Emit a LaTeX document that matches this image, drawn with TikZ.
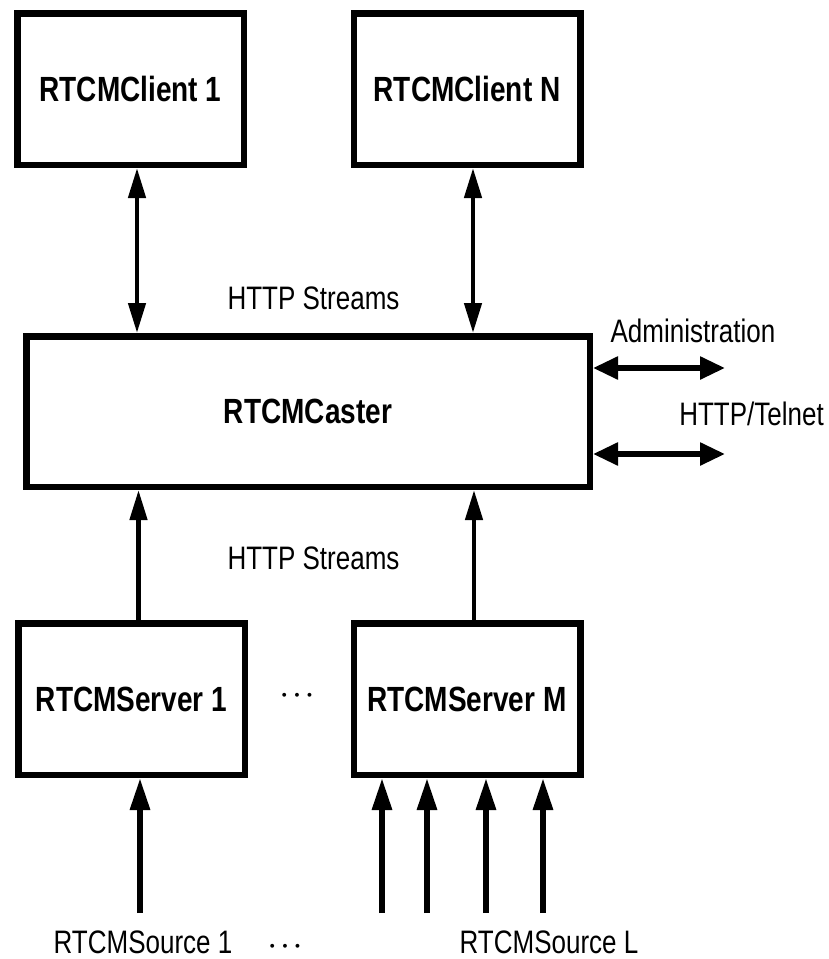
\documentclass[tikz,border=0pt]{standalone}
\usepackage{fontspec}
\setmainfont{Liberation Sans}[FakeStretch=0.8]
\usetikzlibrary{arrows.meta}

\begin{document}
\begin{tikzpicture}[
    x=1pt,
    y=-1pt,
    box/.style={draw,line width=6.5pt,minimum width=226.5pt,minimum height=151.5pt,
        inner sep=0pt,font=\fontsize{35}{40}\selectfont\bfseries},
    note/.style={inner sep=0pt,anchor=base,font=\fontsize{32.5}{38}\selectfont},
    dots/.style={inner sep=0pt,font=\fontsize{32}{36}\selectfont\boldmath},
    duplex/.style={line width=4.5pt,{Triangle[length=30pt,width=17pt]}-{Triangle[length=30pt,width=17pt]}},
    stream/.style={line width=4.5pt,-{Triangle[length=30pt,width=17pt]}},
    feed/.style={line width=6pt,-{Triangle[length=32pt,width=19pt]}},
    admin/.style={line width=5.5pt,{Triangle[length=25pt,width=22pt]}-{Triangle[length=25pt,width=22pt]}}
]
    \useasboundingbox (0,0) rectangle (829,959);

    % Clients, caster and servers
    \node[box] (client1) at (130.5,89) {RTCMClient 1};
    \node[box] (clientN) at (467,89) {RTCMClient N};
    \node[box,minimum width=563.5pt,minimum height=150.5pt] (caster) at (308,411.5) {RTCMCaster};
    \node[box] (server1) at (131.5,699) {RTCMServer 1};
    \node[box] (serverM) at (467,699) {RTCMServer M};
    \node[dots] (dotsmid) at (297,696) {$\cdots$};

    % HTTP streams between clients and caster
    \draw[duplex] ([xshift=6.5pt]client1.south) -- ([xshift=6.5pt]client1.south |- caster.north);
    \draw[duplex] ([xshift=6pt]clientN.south) -- ([xshift=6pt]clientN.south |- caster.north);
    \node[note] (streamsup) at (313.5,309) {HTTP Streams};

    % HTTP streams from servers to caster
    \draw[stream] ([xshift=7pt]server1.north) -- ([xshift=7pt]server1.north |- caster.south);
    \draw[stream] ([xshift=7pt]serverM.north) -- ([xshift=7pt]serverM.north |- caster.south);
    \node[note] (streamsdown) at (313.5,569) {HTTP Streams};

    % Administration
    \coordinate (adm1) at (725,368);
    \coordinate (adm2) at (725,454);
    \draw[admin] (caster.east |- adm1) -- (adm1);
    \draw[admin] (caster.east |- adm2) -- (adm2);
    \node[note] (admin) at (693,342) {Administration};
    \node[note] (telnet) at (751.5,425) {HTTP/Telnet};

    % Sources
    \coordinate (src1) at (140,913);
    \draw[feed] (src1) -- (src1 |- server1.south);
    \foreach \x [count=\i] in {382,427,486,543}{
        \coordinate (srcM\i) at (\x,913);
        \draw[feed] (srcM\i) -- (srcM\i |- serverM.south);
    }
    \node[note] (source1) at (143,953) {RTCMSource 1};
    \node[dots] (dotsbottom) at (285,947) {$\cdots$};
    \node[note] (sourceL) at (549,953) {RTCMSource L};
\end{tikzpicture}
\end{document}
